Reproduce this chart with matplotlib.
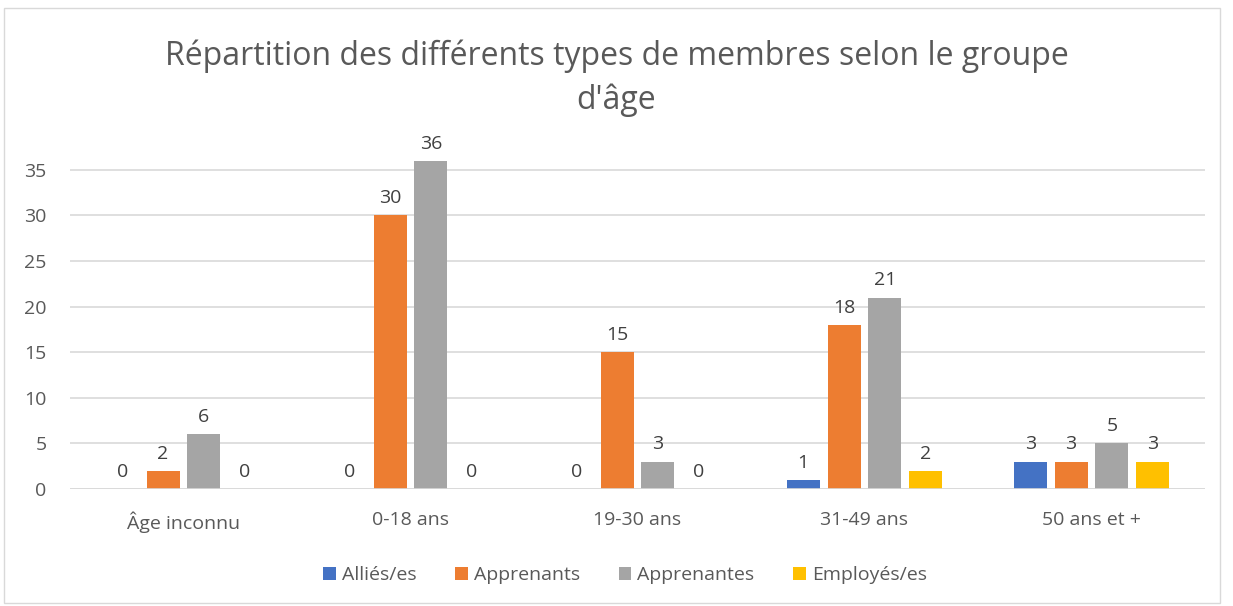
import numpy as np
import matplotlib.pyplot as plt
from matplotlib.patches import Rectangle

plt.rcParams['font.family'] = ['Open Sans', 'DejaVu Sans']

groupes = ['Âge inconnu', '0-18 ans', '19-30 ans', '31-49 ans', '50 ans et +']
series = ['Alliés/es', 'Apprenants', 'Apprenantes', 'Employés/es']
allies = [0, 0, 0, 1, 3]
apprenants = [2, 30, 15, 18, 3]
apprenantes = [6, 36, 3, 21, 5]
employes = [0, 0, 0, 2, 3]
couleurs = ['#4472C4', '#ED7D31', '#A5A5A5', '#FFC000']

W, H = 1233, 606
fig = plt.figure(figsize=(W / 100, H / 100), dpi=100)
fig.patches.append(Rectangle((4 / W, 1 - 603 / H), 1216 / W, 595 / H, transform=fig.transFigure,
                             fill=False, edgecolor='#D9D9D9', lw=1))

x0, x1, y0, y1 = 70, 1205, 489, 148
ax = fig.add_axes([x0 / W, 1 - y0 / H, (x1 - x0) / W, (y0 - y1) / H])

x = np.arange(len(groupes))
bw = 0.145
step = 0.18
txt = '#404040'
for i, (vals, nom) in enumerate(zip([allies, apprenants, apprenantes, employes], series)):
    pos = x + (i - 1.5) * step
    ax.bar(pos, vals, bw, color=couleurs[i], label=nom, zorder=3)
    for p, v in zip(pos, vals):
        ax.text(p, v + 0.9, str(v), ha='center', va='bottom', fontsize=14, color=txt)

ax.set_xlim(-0.5, len(groupes) - 0.5)
ax.set_ylim(0, 37.4)
ax.set_yticks(range(0, 40, 5))
ax.set_xticks(x)
ax.set_xticklabels(groupes)
ax.grid(axis='y', color='#D9D9D9', lw=1.2, zorder=0)
for s in ax.spines.values():
    s.set_visible(False)
ax.axhline(0, color='#D9D9D9', lw=1.2, zorder=4)
ax.tick_params(length=0, labelsize=14, labelcolor='#595959')
ax.tick_params(axis='y', pad=17)
ax.tick_params(axis='x', pad=16)

fig.text(0.5, 1 - 78 / H, "Répartition des différents types de membres selon le groupe\nd'âge",
         ha='center', va='center', fontsize=23, color='#595959', linespacing=1.4)

fig.legend(loc='center', bbox_to_anchor=(625 / W, 1 - 575 / H), ncol=4, frameon=False,
           fontsize=14, labelcolor='#595959', handlelength=0.65, handleheight=0.65,
           handletextpad=0.3, columnspacing=2.0)

fig.savefig('out.png', dpi=100)
